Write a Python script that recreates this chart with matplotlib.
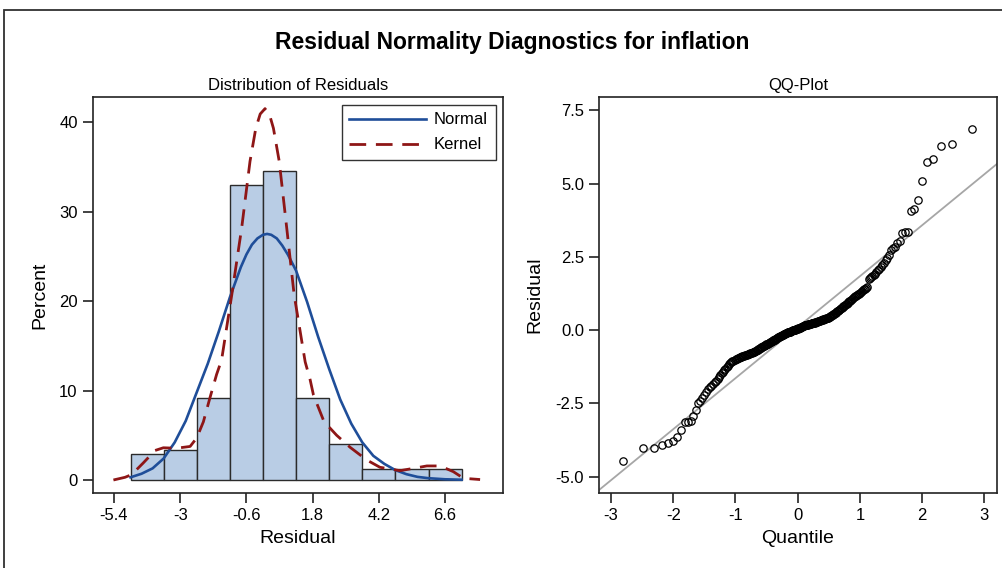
import matplotlib
matplotlib.use("Agg")
import matplotlib.pyplot as plt
from matplotlib.patches import Rectangle
from statistics import NormalDist

plt.rcParams['font.family'] = ['Liberation Sans', 'DejaVu Sans']
plt.rcParams['axes.unicode_minus'] = False

# histogram of residuals (percent per bin, bin width 1.2)
bin_centers = [-4.2, -3.0, -1.8, -0.6, 0.6, 1.8, 3.0, 4.2, 5.4, 6.6]
bin_percent = [2.85, 3.35, 9.2, 33.0, 34.5, 9.2, 4.05, 1.2, 1.2, 1.2]

# fitted normal curve
normal_x = [-4.8, -4.4, -4.0, -3.6, -3.2, -2.8, -2.4, -2.0, -1.6, -1.2, -0.8, -0.6,
            -0.4, -0.2, 0.0, 0.15, 0.3, 0.5, 0.7, 0.9, 1.2, 1.6, 2.0, 2.4, 2.8, 3.2,
            3.6, 4.0, 4.4, 4.8, 5.2, 5.6, 6.0, 6.6, 7.2]
normal_y = [0.3, 0.7, 1.3, 2.4, 4.2, 6.6, 9.8, 13.0, 16.6, 20.4, 23.8, 25.2,
            26.3, 27.0, 27.4, 27.5, 27.4, 27.0, 26.2, 25.2, 23.4, 19.9, 16.0, 12.4, 9.0, 6.3,
            4.2, 2.7, 1.8, 1.1, 0.65, 0.35, 0.2, 0.08, 0.03]

# kernel density curve
kernel_x = [-5.42, -5.0, -4.76, -4.34, -3.91, -3.61, -3.13, -2.64, -2.40, -2.16, -1.92,
            -1.68, -1.50, -1.13, -0.77, -0.47, -0.26, -0.10, 0.075, 0.25, 0.38, 0.59,
            0.86, 1.13, 1.53, 1.71, 1.83, 2.19, 2.43, 2.67, 3.16, 3.76, 4.24, 4.97,
            5.45, 5.94, 6.42, 6.90, 7.27, 7.87]
kernel_y = [0.0, 0.3, 0.6, 1.9, 3.3, 3.6, 3.55, 3.75, 4.7, 6.5, 9.2,
            11.8, 13.4, 20.7, 28.2, 35.6, 39.3, 40.9, 41.5, 40.7, 39.3, 35.6,
            28.2, 20.7, 13.2, 11.2, 9.5, 6.7, 5.8, 5.0, 3.65, 2.24, 1.42, 1.04,
            1.3, 1.57, 1.57, 0.93, 0.19, 0.05]

# sorted residuals for the QQ plot
residuals = [
    -4.47, -4.04, -4.03, -3.92, -3.85, -3.79, -3.66, -3.40, -3.13, -3.12,
    -3.10, -2.92, -2.71, -2.48, -2.42, -2.30,
    -2.22, -2.10, -2.00, -1.95, -1.90, -1.84, -1.78, -1.72, -1.66, -1.60,
    -1.52, -1.48, -1.42, -1.36, -1.31, -1.26, -1.21, -1.16,
    -1.13, -1.10, -1.07, -1.04, -1.01, -0.98,
    -0.97, -0.96, -0.94, -0.93, -0.92, -0.90,
    -0.89, -0.88, -0.87, -0.86, -0.85, -0.84, -0.82,
    -0.81, -0.80, -0.79, -0.78, -0.77, -0.76, -0.75, -0.74,
    -0.72, -0.70, -0.68, -0.67, -0.65, -0.63, -0.61,
    -0.60, -0.58, -0.57, -0.55, -0.54, -0.53, -0.51, -0.50, -0.48,
    -0.47, -0.46, -0.44, -0.43, -0.42, -0.40, -0.39, -0.38, -0.36,
    -0.35, -0.33, -0.32, -0.30, -0.29, -0.27, -0.26, -0.24, -0.23,
    -0.22, -0.21, -0.20, -0.19, -0.18, -0.16, -0.15, -0.14, -0.13, -0.12,
    -0.11, -0.10, -0.09, -0.08, -0.07, -0.07, -0.06, -0.05, -0.04, -0.03,
    -0.02, -0.01, -0.01, 0.00, 0.01, 0.02, 0.03, 0.03, 0.04, 0.05,
    0.06, 0.07, 0.08, 0.09, 0.10, 0.11, 0.12, 0.13, 0.14, 0.15,
    0.16, 0.16, 0.17, 0.18, 0.18, 0.19, 0.20, 0.20, 0.21, 0.22,
    0.22, 0.23, 0.24, 0.24, 0.25, 0.25, 0.26, 0.27, 0.27,
    0.28, 0.29, 0.30, 0.31, 0.32, 0.32, 0.33, 0.34, 0.35, 0.36,
    0.37, 0.38, 0.39, 0.39, 0.40, 0.41, 0.42, 0.43, 0.44,
    0.46, 0.47, 0.49, 0.50, 0.52, 0.54, 0.55, 0.57,
    0.59, 0.61, 0.64, 0.66, 0.68, 0.70, 0.72, 0.74,
    0.77, 0.79, 0.81, 0.83, 0.86, 0.88, 0.90, 0.92,
    0.95, 0.98, 1.01, 1.04, 1.07, 1.09, 1.12,
    1.15, 1.17, 1.20, 1.22, 1.25, 1.28,
    1.31, 1.34, 1.37, 1.39, 1.42, 1.44, 1.47,
    1.75, 1.78, 1.82, 1.85, 1.88, 1.92,
    1.98, 2.04, 2.10, 2.16, 2.22, 2.28,
    2.40, 2.45, 2.55, 2.73, 2.80, 2.84, 2.98, 3.05, 3.30, 3.34,
    3.36, 4.06, 4.15, 4.46, 5.10, 5.74, 5.86, 6.28, 6.37, 6.86,
]
ref_mean = 0.1
ref_sd = 1.74

# normal quantiles (Blom positions) for each ranked residual
n = len(residuals)
quantiles = [NormalDist().inv_cdf((i + 1 - 0.375) / (n + 0.25)) for i in range(n)]

blue = '#1F4E99'
red = '#8E1616'

fig = plt.figure(figsize=(10.03, 5.68), dpi=100)
fig.patch.set_facecolor('white')

# outer frame (only top/left visible in the crop)
fig.add_artist(Rectangle((4 / 1003, -0.1), 1.2, (558 / 568) + 0.1, transform=fig.transFigure,
                         fill=False, edgecolor='#303030', linewidth=1.3, clip_on=False))

fig.text(512 / 1003, 1 - 43 / 568, 'Residual Normality Diagnostics for inflation',
         ha='center', va='center', fontsize=16.5, fontweight='bold')

ax1 = fig.add_axes([93 / 1003, 75.3 / 568, 410 / 1003, 395.7 / 568])
ax2 = fig.add_axes([599.3 / 1003, 75.3 / 568, 397.4 / 1003, 395.7 / 568])

# histogram panel
ax1.bar(bin_centers, bin_percent, width=1.2, color='#B9CDE5', edgecolor='#2B2B2B',
        linewidth=1.0, zorder=1)
ax1.plot(normal_x, normal_y, color=blue, linewidth=1.9, label='Normal', zorder=3)
ax1.plot(kernel_x, kernel_y, color=red, linewidth=2.0, linestyle=(0, (6, 3.5)),
         label='Kernel', zorder=3)
ax1.set_xlim(-6.16, 8.70)
ax1.set_ylim(-1.42, 42.8)
ax1.set_xticks([-5.4, -3, -0.6, 1.8, 4.2, 6.6])
ax1.set_xticklabels(['-5.4', '-3', '-0.6', '1.8', '4.2', '6.6'])
ax1.set_yticks([0, 10, 20, 30, 40])
ax1.set_xlabel('Residual', fontsize=14, labelpad=5)
ax1.set_ylabel('Percent', fontsize=14, labelpad=8)
ax1.set_title('Distribution of Residuals', fontsize=12, pad=5)
leg = ax1.legend(loc='upper right', bbox_to_anchor=(0.982, 0.98), fontsize=12,
                 frameon=True, fancybox=False, handlelength=4.6, borderpad=0.45,
                 labelspacing=0.6, handletextpad=0.5, borderaxespad=0)
leg.get_frame().set_edgecolor('black')
leg.get_frame().set_linewidth(1.0)

# QQ panel
ax2.axline((0, ref_mean), slope=ref_sd, color='#A6A6A6', linewidth=1.3, zorder=1)
ax2.plot(quantiles, residuals, linestyle='none', marker='o', markersize=5.3,
         markerfacecolor='none', markeredgecolor='black', markeredgewidth=0.9, zorder=2)
ax2.set_xlim(-3.19, 3.20)
ax2.set_ylim(-5.55, 7.96)
ax2.set_xticks([-3, -2, -1, 0, 1, 2, 3])
ax2.set_yticks([-5, -2.5, 0, 2.5, 5, 7.5])
ax2.set_yticklabels(['-5.0', '-2.5', '0.0', '2.5', '5.0', '7.5'])
ax2.set_xlabel('Quantile', fontsize=14, labelpad=5)
ax2.set_ylabel('Residual', fontsize=14, labelpad=9)
ax2.set_title('QQ-Plot', fontsize=12, pad=5)

for ax in (ax1, ax2):
    for s in ax.spines.values():
        s.set_linewidth(1.2)
        s.set_color('#222222')
    ax.tick_params(direction='out', length=7, width=1.2, labelsize=12, pad=4,
                   color='#222222')

fig.savefig('out.png', dpi=100)
